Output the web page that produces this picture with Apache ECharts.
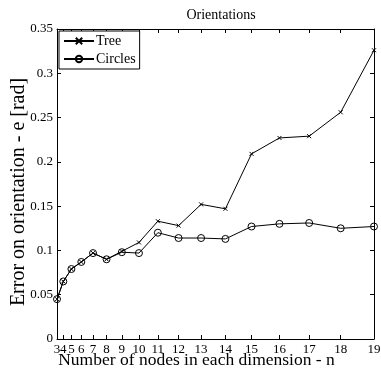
<!DOCTYPE html>
<html>
<head>
<meta charset="utf-8">
<script src="https://cdn.jsdelivr.net/npm/echarts@6/dist/echarts.min.js"></script>
<style>
  html, body { margin: 0; padding: 0; background: #fff; }
  #chart { width: 381px; height: 371px; }
</style>
</head>
<body>
<div id="chart"></div>
<script>
// nodes in each dimension (x axis is spaced by n*n)
var nodes = [3, 4, 5, 6, 7, 8, 9, 10, 11, 12, 13, 14, 15, 16, 17, 18, 19];
var tree = [0.045, 0.065, 0.079, 0.087, 0.097, 0.090, 0.099, 0.109, 0.133, 0.128, 0.152, 0.147, 0.209, 0.227, 0.229, 0.256, 0.326];
var circles = [0.045, 0.065, 0.079, 0.087, 0.097, 0.090, 0.098, 0.097, 0.120, 0.114, 0.114, 0.113, 0.127, 0.130, 0.131, 0.125, 0.127];
var yTicks = [0, 0.05, 0.1, 0.15, 0.2, 0.25, 0.3, 0.35];

var font = 'Liberation Serif';
var sq = nodes.map(function(n){ return n * n; });

function pairs(vals){
    return vals.map(function(v, i){ return [sq[i], v]; });
}

var crossPath = 'path://M0,0L10,10M10,0L0,10';

var xBase = {
    type: 'value',
    min: sq[0],
    max: sq[sq.length - 1],
    splitLine: { show: false },
    axisLine: { show: true, onZero: false, lineStyle: { color: '#000', width: 1 } },
    axisTick: { show: true, inside: true, length: 4, customValues: sq, lineStyle: { color: '#000' } }
};
var yBase = {
    type: 'value',
    min: 0,
    max: 0.35,
    interval: 0.05,
    splitLine: { show: false },
    axisLine: { show: true, lineStyle: { color: '#000', width: 1 } },
    axisTick: { show: true, inside: true, length: 4, lineStyle: { color: '#000' } }
};

var option = {
    animation: false,
    backgroundColor: '#fff',
    title: {
        text: 'Orientations',
        left: 216,
        textAlign: 'center',
        top: 3,
        textStyle: { fontFamily: font, fontSize: 14, fontWeight: 'normal', color: '#000' }
    },
    grid: { left: 57, right: 7, top: 29, bottom: 32, containLabel: false, outerBoundsMode: 'none' },
    legend: {
        orient: 'vertical',
        left: 59,
        top: 31,
        padding: [3, 4, 3, 4],
        itemGap: 4,
        itemWidth: 30,
        itemHeight: 8,
        borderColor: '#000',
        borderWidth: 1,
        backgroundColor: '#fff',
        textStyle: { fontFamily: font, fontSize: 14, color: '#000', padding: [0, 0, 0, -3] },
        data: ['Tree', 'Circles']
    },
    xAxis: [
        Object.assign({}, xBase, {
            position: 'bottom',
            name: 'Number of nodes in each dimension - n',
            nameLocation: 'middle',
            nameGap: 12,
            nameMoveOverlap: false,
            nameTextStyle: { fontFamily: font, fontSize: 17.5, color: '#000', verticalAlign: 'top', padding: [0, 38, 0, 0] },
            axisLabel: {
                margin: 4,
                customValues: sq,
                showMinLabel: true,
                showMaxLabel: true,
                hideOverlap: false,
                fontFamily: font, fontSize: 13, color: '#000',
                formatter: function(v){ return String(Math.round(Math.sqrt(v))); }
            }
        }),
        Object.assign({}, xBase, { position: 'top', axisLabel: { show: false } })
    ],
    yAxis: [
        Object.assign({}, yBase, {
            position: 'left',
            name: 'Error on orientation - e [rad]',
            nameLocation: 'middle',
            nameGap: 28,
            nameMoveOverlap: false,
            nameTextStyle: { fontFamily: font, fontSize: 20, color: '#000', padding: [0, 16, 0, 0] },
            axisLabel: {
                margin: 4,
                fontFamily: font, fontSize: 13, color: '#000',
                customValues: yTicks
            }
        }),
        Object.assign({}, yBase, { position: 'right', axisLabel: { show: false } })
    ],
    series: [
        {
            name: 'Tree',
            type: 'line',
            data: pairs(tree),
            symbol: crossPath,
            symbolSize: 4,
            showAllSymbol: true,
            lineStyle: { color: '#000', width: 1 },
            itemStyle: { color: '#000', borderColor: '#000', borderWidth: 1 },
            z: 3
        },
        {
            name: 'Circles',
            type: 'line',
            data: pairs(circles),
            symbol: 'circle',
            symbolSize: 7,
            showAllSymbol: true,
            lineStyle: { color: '#000', width: 1 },
            itemStyle: { color: 'rgba(0,0,0,0)', borderColor: '#000', borderWidth: 1 },
            z: 2
        }
    ]
};

var chart = echarts.init(document.getElementById('chart'));
chart.setOption(option);
</script>
</body>
</html>
